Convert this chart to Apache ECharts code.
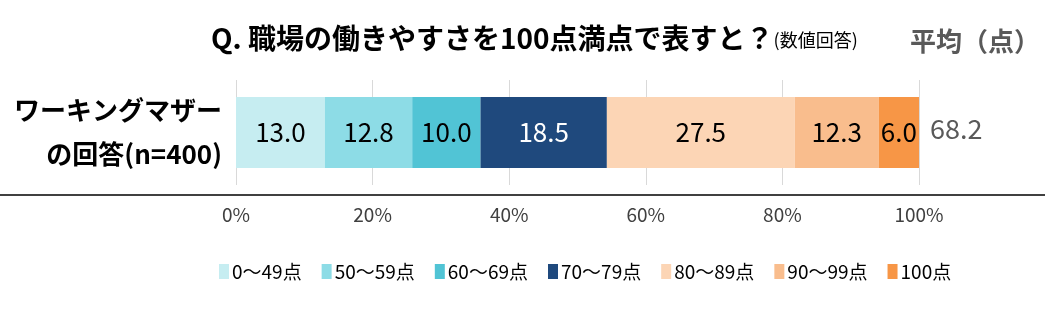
<!DOCTYPE html>
<html><head><meta charset="utf-8">
<script src="https://cdn.jsdelivr.net/npm/echarts@6/dist/echarts.min.js"></script>
<style>html,body{margin:0;padding:0;background:#fff}#c{width:1057px;height:328px}</style>
</head><body><div id="c"></div>
<script>
const categories = ['ワーキングマザー\nの回答(n=400)'];
const seriesNames = ['0～49点','50～59点','60～69点','70～79点','80～89点','90～99点','100点'];
const values = [13.0, 12.8, 10.0, 18.5, 27.5, 12.3, 6.0];
const average = [68.2];
const xTicks = [0, 20, 40, 60, 80, 100];
const colors = ['#c6edf1','#8ddce6','#51c4d5','#1f497d','#fcd5b5','#f9bd8d','#f79646'];
const labelColors = ['#000','#000','#000','#fff','#000','#000','#000'];
const font = '"Noto Sans CJK JP", "Noto Sans", sans-serif';

const chart = echarts.init(document.getElementById('c'));
chart.setOption({
  animation: false,
  textStyle: { fontFamily: font },
  grid: { left: 236, right: 138, top: 80, bottom: 143, containLabel: false },
  xAxis: {
    type: 'value', min: 0, max: 100, interval: 20,
    axisLine: { show: false }, axisTick: { show: false },
    splitLine: { show: true, lineStyle: { color: '#d9d9d9', width: 1 } },
    axisLabel: { formatter: '{value}%', color: '#404040', fontSize: 19, margin: 20, fontFamily: font }
  },
  yAxis: {
    type: 'category', data: categories,
    axisLine: { show: false }, axisTick: { show: false },
    axisLabel: { color: '#000', fontSize: 26, fontWeight: 'bold', lineHeight: 44, margin: 14, align: 'right', fontFamily: font }
  },
  legend: {
    bottom: 42, left: 214, itemWidth: 10, itemHeight: 15, itemGap: 20,
    icon: 'rect',
    textStyle: { fontSize: 19, color: '#000', fontFamily: font, padding: [0,0,0,-2] },
    data: seriesNames
  },
  series: seriesNames.map((n, i) => ({
    name: n, type: 'bar', stack: 'total', barWidth: 71,
    itemStyle: { color: colors[i] },
    label: { show: true, position: 'inside', color: labelColors[i], fontSize: 26, fontFamily: font,
      formatter: p => p.value.toFixed(1) },
    data: [values[i]]
  })),
  graphic: [
    { type: 'text', left: 211, top: 24, style: {
        text: '{a|Q. 職場の働きやすさを100点満点で表すと？}{b|(数値回答)}',
        rich: {
          a: { fontSize: 28, fontWeight: 'bold', fill: '#000', fontFamily: font, verticalAlign: 'bottom' },
          b: { fontSize: 18, fill: '#000', fontFamily: font, verticalAlign: 'bottom', padding: [0,0,3,0] }
        } } },
    { type: 'text', left: 910, top: 28, style: { text: '平均（点）', fontSize: 26, fontWeight: 'bold', fill: '#595959', fontFamily: font } },
    { type: 'text', left: 930, top: 115, style: { text: average[0].toFixed(1), fontSize: 27, fill: '#595959', fontFamily: font } },
    { type: 'line', shape: { x1: 0, y1: 195, x2: 1045, y2: 195 }, style: { stroke: '#404040', lineWidth: 2 } }
  ]
});
</script></body></html>
